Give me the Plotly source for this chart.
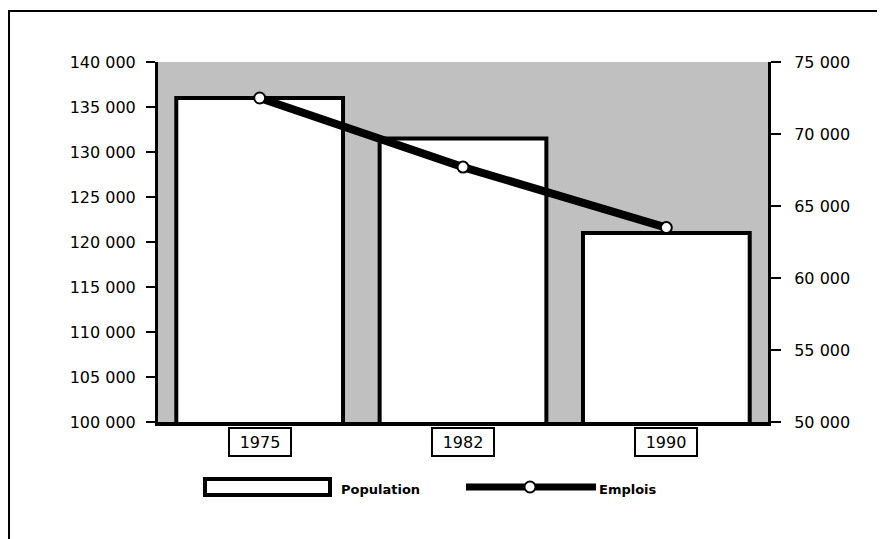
import plotly.graph_objects as go

years = ["1975", "1982", "1990"]
population = [136000, 131500, 121000]
emplois = [72500, 67700, 63500]
left_ticks = [100000, 105000, 110000, 115000, 120000, 125000, 130000, 135000, 140000]
right_ticks = [50000, 55000, 60000, 65000, 70000, 75000]

FONT = "DejaVu Sans"

fig = go.Figure()
fig.add_trace(go.Bar(
    x=years, y=population, name="Population", width=0.82,
    marker=dict(color="white", line=dict(color="black", width=4)),
    showlegend=False, yaxis="y",
))
fig.add_trace(go.Scatter(
    x=years, y=emplois, name="Emplois", mode="lines+markers",
    line=dict(color="black", width=8),
    marker=dict(size=11, color="white", line=dict(color="black", width=2)),
    showlegend=False, yaxis="y2",
))

fmt = lambda v: f"{v:,}".replace(",", " ")

# page has an 8px body margin; figure sized so the plot area lands at page x 158-768, y 62-422
fig.update_layout(
    width=877, height=531,
    margin=dict(l=150, r=117, t=54, b=117),
    paper_bgcolor="white",
    plot_bgcolor="#c0c0c0",
    font=dict(family=FONT, size=16, color="black"),
    xaxis=dict(
        type="category", range=[-0.5, 2.5], showticklabels=False,
        showline=True, linecolor="black", linewidth=4, ticks="",
        showgrid=False, zeroline=False,
    ),
    yaxis=dict(
        range=[100000, 140000], tickvals=left_ticks,
        ticktext=[fmt(v) for v in left_ticks],
        showline=True, linecolor="black", linewidth=3,
        ticks="outside", ticklen=9, tickwidth=2, tickcolor="black",
        ticklabelstandoff=7,
        showgrid=False, zeroline=False,
    ),
    yaxis2=dict(
        range=[50000, 75000], tickvals=right_ticks,
        ticktext=[fmt(v) for v in right_ticks],
        overlaying="y", side="right",
        showline=True, linecolor="black", linewidth=3,
        ticks="outside", ticklen=10, tickwidth=2, tickcolor="black",
        ticklabelstandoff=10,
        showgrid=False, zeroline=False,
    ),
)


def px(x):
    return (x - 158) / 610


def py(y):
    return (422 - y) / 360


# Boxed category labels
for i, yr in enumerate(years):
    fig.add_annotation(
        x=i, y=py(427), xref="x", yref="paper", yanchor="top",
        text=yr, showarrow=False, font=dict(family=FONT, size=16),
        width=60, height=26,
        bordercolor="black", borderwidth=2, borderpad=0, bgcolor="white",
    )

# Outer frame
fig.add_shape(type="rect", xref="paper", yref="paper",
              x0=px(9), x1=px(883), y0=py(560), y1=py(11),
              line=dict(color="black", width=2), fillcolor="rgba(0,0,0,0)", layer="below")

# Custom legend
fig.add_shape(type="rect", xref="paper", yref="paper",
              x0=px(205), x1=px(330), y0=py(495), y1=py(479),
              line=dict(color="black", width=4), fillcolor="white")
fig.add_annotation(x=px(339), y=py(489), xref="paper", yref="paper",
                   xanchor="left", yanchor="middle", showarrow=False,
                   text="<b>Population</b>", font=dict(family=FONT, size=13))
fig.add_shape(type="line", xref="paper", yref="paper",
              x0=px(466), x1=px(596), y0=py(487), y1=py(487),
              line=dict(color="black", width=7))
fig.add_shape(type="circle", xref="paper", yref="paper",
              xsizemode="pixel", ysizemode="pixel",
              xanchor=px(530), yanchor=py(487),
              x0=-5.5, x1=5.5, y0=-5.5, y1=5.5,
              line=dict(color="black", width=2), fillcolor="white")
fig.add_annotation(x=px(597), y=py(489), xref="paper", yref="paper",
                   xanchor="left", yanchor="middle", showarrow=False,
                   text="<b>Emplois</b>", font=dict(family=FONT, size=13))

fig.write_html("out.html")
